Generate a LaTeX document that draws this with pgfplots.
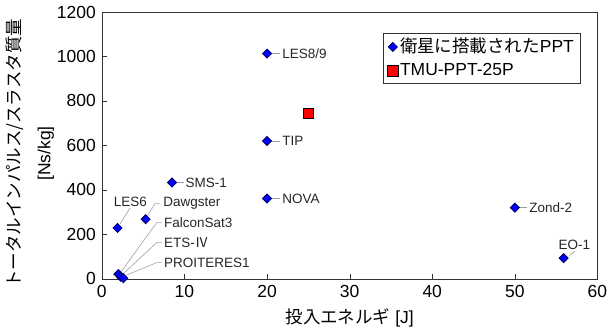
\documentclass[border=0pt]{standalone}
\usepackage{pgfplots}
\pgfplotsset{compat=1.18}
\usepackage{fontspec}
\setmainfont{Liberation Sans}
\newfontfamily\cjk{Noto Sans CJK JP}
\definecolor{lead}{RGB}{160,160,160}
\definecolor{navy}{RGB}{0,0,90}
\begin{document}
\fontsize{17.5}{21}\selectfont
\begin{tikzpicture}
\begin{axis}[
 scale only axis, width=496pt, height=267pt,
 xmin=0, xmax=60, ymin=0, ymax=1200,
 xtick={0,10,...,60}, ytick={0,200,...,1200},
 tick align=inside, xtick pos=bottom, ytick pos=left,
 major tick length=5pt,
 axis line style={black!80},
 tick style={black!80},
 /pgf/number format/assume math mode=true,
 /pgf/number format/1000 sep={},
 tick label style={font=\fontsize{17.5}{21}\selectfont},
 xlabel={{\cjk 投入エネルギ} [J]},
 xlabel style={font=\fontsize{17.5}{21}\selectfont},
 ylabel={{\cjk トータルインパルス/スラスタ質量}\\{[Ns/kg]}},
 ylabel style={align=center, font=\fontsize{17.5}{30}\selectfont,
   at={(axis description cs:-0.145,0.47)}, anchor=center},
 legend style={at={(rel axis cs:0.965,0.921)}, anchor=north east,
   draw=black!80, font=\fontsize{17.5}{21}\selectfont, cells={anchor=west},
   row sep=4pt, inner xsep=4pt, inner ysep=3pt},
 legend image code/.code={\draw[#1] (0.2cm,0cm) plot coordinates {(0.2cm,0cm)};},
 clip=false,
]
\addplot[only marks, mark=square*, mark size=3.2pt,
  mark options={rotate=45, fill=blue, draw=navy, line width=0.8pt}]
  coordinates {(1.9,229) (5.3,268) (8.5,433) (20,361) (20,1013) (20,620)
   (50,320) (55.9,93) (2.0,21) (2.3,9) (2.6,3)};
\addlegendentry{{\cjk 衛星に搭載された}PPT}
\addplot[only marks, mark=square*, mark size=5.2pt,
  mark options={fill=red, draw=black, line width=0.8pt}]
  coordinates {(25,745)};
\addlegendentry{TMU-PPT-25P}

\begin{scope}[lead, line width=0.6pt]
\draw (axis cs:20.6,1013) -- (axis cs:21.6,1013);
\draw (axis cs:20.6,620) -- (axis cs:21.6,620);
\draw (axis cs:20.6,361) -- (axis cs:21.6,361);
\draw (axis cs:9.1,433) -- (axis cs:9.9,433);
\draw (axis cs:50.6,320) -- (axis cs:51.5,320);
\draw (axis cs:56.6,105) -- (axis cs:57.3,124);
\draw (axis cs:2.2,246) -- (axis cs:3.4,318);
\draw (axis cs:5.5,283) -- (axis cs:6.45,338) -- (axis cs:7.0,338);
\draw (axis cs:2.3,30) -- (axis cs:6.65,253) -- (axis cs:7.26,253);
\draw (axis cs:2.5,20) -- (axis cs:6.65,163) -- (axis cs:7.26,163);
\draw (axis cs:2.7,12) -- (axis cs:6.65,73) -- (axis cs:7.26,73);
\end{scope}
\begin{scope}[every node/.style={font=\fontsize{13.5}{16}\selectfont, inner sep=1pt, text=black!85}]
\node[anchor=west] at (axis cs:21.7,1013) {LES8/9};
\node[anchor=west] at (axis cs:21.7,620) {TIP};
\node[anchor=west] at (axis cs:21.7,361) {NOVA};
\node[anchor=west] at (axis cs:10.0,433) {SMS-1};
\node[anchor=west] at (axis cs:51.6,320) {Zond-2};
\node[anchor=south] at (axis cs:57.2,126) {EO-1};
\node[anchor=south] at (axis cs:3.45,320) {LES6};
\node[anchor=west] at (axis cs:7.3,338) {Dawgster};
\node[anchor=west] at (axis cs:7.4,253) {FalconSat3};
\node[anchor=west] at (axis cs:7.4,163) {ETS-{\cjk Ⅳ}};
\node[anchor=west] at (axis cs:7.4,73) {PROITERES1};
\end{scope}
\end{axis}
\end{tikzpicture}
\end{document}
